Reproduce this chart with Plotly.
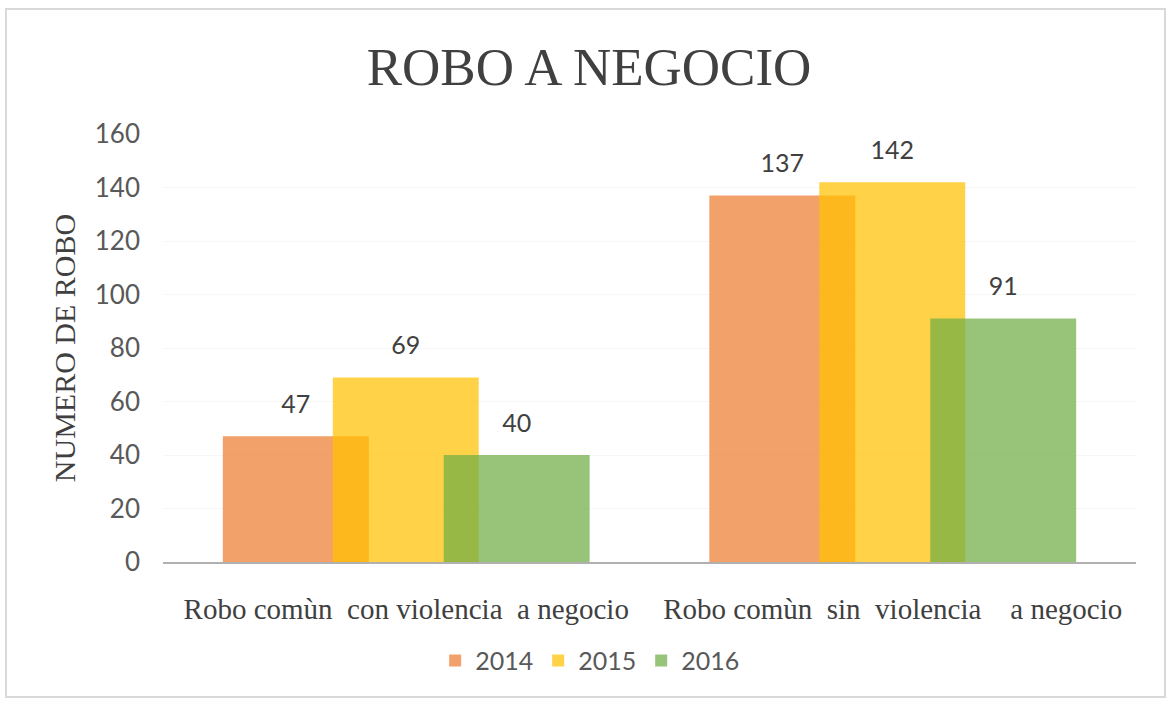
import plotly.graph_objects as go

categories = ["Robo comùn\u00a0\u00a0con violencia\u00a0\u00a0a negocio",
              "Robo comùn\u00a0\u00a0sin\u00a0\u00a0violencia\u00a0\u00a0\u00a0\u00a0a negocio"]
years = ["2014", "2015", "2016"]
values_2014 = [47, 137]
values_2015 = [69, 142]
values_2016 = [40, 91]
y_ticks = [0, 20, 40, 60, 80, 100, 120, 140, 160]

series = [values_2014, values_2015, values_2016]
colors = ["rgba(237,125,49,0.72)", "rgba(255,192,0,0.72)", "rgba(112,173,71,0.72)"]
offsets = [-0.377, -0.151, 0.077]
bar_w = 0.30

fig = go.Figure()
for name, vals, col, off in zip(years, series, colors, offsets):
    fig.add_trace(go.Bar(
        x=categories, y=vals, name=name,
        marker=dict(color=col, line=dict(width=0)),
        width=bar_w, offset=off,
    ))

# data labels placed over each bar centre through a hidden numeric axis
for name, vals, off in zip(years, series, offsets):
    xs = [i + off + bar_w / 2 for i in range(len(categories))]
    fig.add_trace(go.Scatter(
        x=xs, y=vals, xaxis="x2", mode="markers+text",
        marker=dict(size=26, opacity=0),
        text=[str(v) for v in vals], textposition="top center",
        textfont=dict(family="Lato", size=25, color="#404040"),
        showlegend=False, hoverinfo="skip", cliponaxis=False,
    ))

fig.update_layout(
    width=1172, height=704,
    barmode="overlay",
    paper_bgcolor="white", plot_bgcolor="white",
    margin=dict(l=163, r=36, t=134, b=142),
    title=dict(text="ROBO A NEGOCIO", x=0.5026, xref="container", xanchor="center",
               y=0.906, yref="container", yanchor="middle",
               font=dict(family="Liberation Serif", size=53, color="#404040")),
    xaxis=dict(range=[-0.5, 1.5], showgrid=False, showline=True, linecolor="#b0b0b0", linewidth=2,
               ticks="", ticklabelstandoff=20,
               tickfont=dict(family="Liberation Serif", size=29, color="#404040")),
    xaxis2=dict(range=[-0.5, 1.5], overlaying="x", visible=False, showgrid=False, zeroline=False),
    yaxis=dict(range=[0, 160], tickvals=y_ticks, showgrid=True, gridcolor="#f7f7f7", gridwidth=1,
               zeroline=False, showline=False, ticks="", ticklabelstandoff=22,
               tickfont=dict(family="Lato", size=26, color="#595959"),
               title=dict(text="NUMERO DE ROBO", standoff=10,
                          font=dict(family="Liberation Serif", size=30, color="#404040"))),
    legend=dict(orientation="h", x=0.439, xanchor="center", y=-0.231, yanchor="middle",
                font=dict(family="Lato", size=25, color="#595959"), itemwidth=30,
                traceorder="normal"),
    showlegend=True,
    shapes=[dict(type="rect", xref="paper", yref="paper", x0=-0.1614, x1=1.0298, y0=-0.3154, y1=1.292,
                 line=dict(color="#d9d9d9", width=2), fillcolor="rgba(0,0,0,0)", layer="below")],
)

fig.write_html("out.html", config={"displayModeBar": False},
               post_script="document.body.style.margin='0';document.body.style.overflow='hidden';")
